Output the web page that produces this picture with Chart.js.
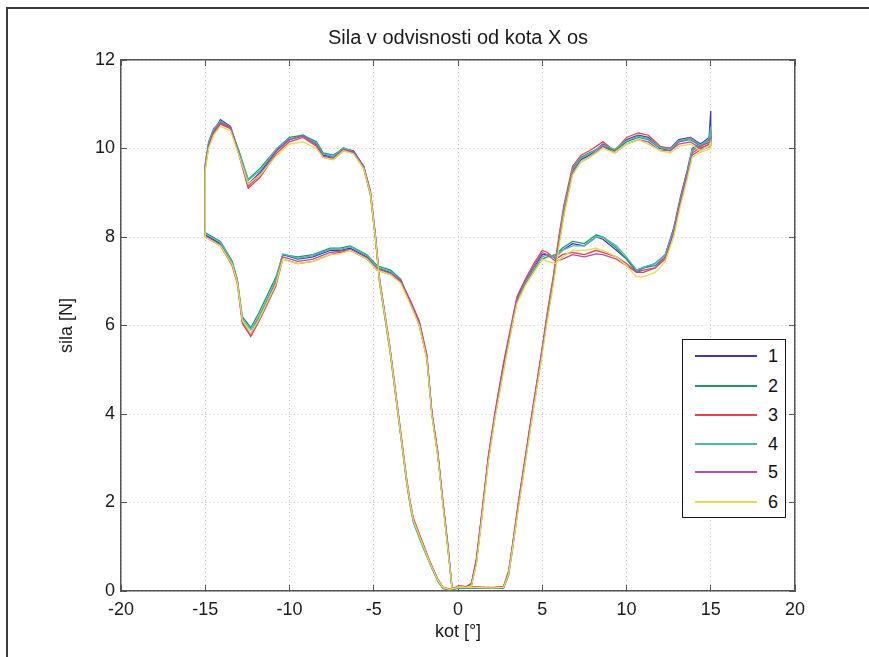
<!DOCTYPE html>
<html>
<head>
<meta charset="utf-8">
<script src="https://cdn.jsdelivr.net/npm/chart.js@4.4.1/dist/chart.umd.min.js"></script>
<style>
  html, body { margin: 0; padding: 0; background: #ffffff; }
  #wrap { position: relative; width: 869px; height: 657px; overflow: hidden; background: #ffffff; }
  #frame { position: absolute; left: 6px; top: 7px; width: 900px; height: 700px;
           border-left: 2px solid #3a3a3a; border-top: 2px solid #3a3a3a; pointer-events: none; }
  canvas { position: absolute; left: 0; top: 0; }
  #legend { position: absolute; left: 682px; top: 339px; width: 104px; height: 179px;
            border: 1px solid #1a1a1a; background: #ffffff; box-sizing: border-box;
            font-family: 'Liberation Sans', Arial, sans-serif; font-size: 18px; color: #111; }
  .row { position: absolute; left: 0; height: 20px; width: 100%; }
  .row .ln { position: absolute; left: 12px; width: 62px; top: 9px; height: 2px; }
  .row .tx { position: absolute; left: 85px; top: 0; line-height: 20px; }
</style>
</head>
<body>
<div id="wrap">
  <canvas id="c" width="869" height="657"></canvas>
  <div id="frame"></div>
  <div id="legend"></div>
</div>
<script>
// ---- data ----
const title = 'Sila v odvisnosti od kota X os';
const xLabel = 'kot [°]';
const yLabel = 'sila [N]';
const xTicks = [-20, -15, -10, -5, 0, 5, 10, 15, 20];
const yTicks = [0, 2, 4, 6, 8, 10, 12];
const seriesNames = ['1', '2', '3', '4', '5', '6'];
const seriesColors = ['#3a3ab4', '#1c9a62', '#e8414f', '#4fb8b2', '#b94aa6', '#e4dc4a'];

// angle path (shared by all six measurements)
const kot = [
  2.7, 3.0, 3.2, 3.6, 4.0, 4.4, 4.9, 5.3, 5.65, 6.0,
  6.3, 6.8, 7.3, 7.8, 8.6, 9.3, 10.0, 10.7, 11.3, 12.0,
  12.6, 13.1, 13.8, 14.4, 14.9, 15.0, 15.0, 14.3, 13.9, 13.6,
  13.2, 12.8, 12.3, 11.7, 11.0, 10.6, 10.0, 9.4, 8.6, 8.2,
  7.5, 6.8, 6.2, 5.8, 5.3, 5.0, 4.5, 4.0, 3.5, 3.2,
  2.7, 2.2, 1.8, 1.5, 1.1, 0.8, 0.5, 0.1, -0.35, -0.6,
  -0.9, -1.2, -1.55, -1.85, -2.3, -2.8, -3.4, -4.0, -4.8, -5.4,
  -6.4, -7.0, -7.6, -8.6, -9.5, -10.4, -10.8, -11.3, -11.8, -12.3,
  -12.8, -13.1, -13.4, -14.1, -15.0, -15.0, -14.8, -14.5, -14.1, -13.5,
  -13.0, -12.45, -11.75, -10.75, -10.0, -9.2, -8.4, -8.0, -7.4, -6.8,
  -6.2, -5.6, -5.2, -4.9, -4.65, -4.05, -3.55, -3.05, -2.85, -2.65,
  -2.25, -1.65, -1.2, -0.9, -0.5, 0.0, 1.0, 2.0, 2.7
];

const sila1 = [
  0.08, 0.4, 0.9, 2.0, 3.0, 4.0, 5.2, 6.2, 7.0, 7.9,
  8.6, 9.5, 9.75, 9.85, 10.1, 9.95, 10.2, 10.3, 10.25, 10.0,
  10.0, 10.2, 10.25, 10.1, 10.25, 10.85, 10.2, 10.1, 10.0, 9.5,
  8.9, 8.2, 7.6, 7.4, 7.3, 7.25, 7.5, 7.7, 7.95, 8.0,
  7.8, 7.85, 7.7, 7.55, 7.6, 7.6, 7.3, 7.0, 6.6, 6.0,
  5.1, 4.0, 3.0, 2.0, 0.7, 0.15, 0.08, 0.1, 0.05, 1.0,
  2.0, 3.1, 4.0, 5.3, 6.05, 6.5, 7.0, 7.2, 7.3, 7.55,
  7.75, 7.7, 7.7, 7.55, 7.5, 7.6, 7.0, 6.6, 6.2, 5.8,
  6.1, 7.0, 7.4, 7.85, 8.05, 9.6, 10.1, 10.4, 10.65, 10.5,
  9.9, 9.2, 9.45, 9.97, 10.2, 10.3, 10.1, 9.85, 9.8, 10.0,
  9.95, 9.6, 9.0, 8.0, 7.0, 5.5, 4.0, 2.5, 2.0, 1.6,
  1.2, 0.63, 0.25, 0.08, 0.03, 0.08, 0.08, 0.07, 0.08
];
const sila2 = [
  0.06, 0.35, 0.85, 1.95, 2.95, 3.95, 5.15, 6.25, 7.05, 8.0,
  8.7, 9.55, 9.8, 9.9, 10.05, 9.95, 10.15, 10.25, 10.2, 10.0,
  9.95, 10.15, 10.2, 10.05, 10.2, 10.4, 10.15, 10.05, 9.95, 9.4,
  8.8, 8.1, 7.55, 7.35, 7.3, 7.2, 7.5, 7.75, 8.0, 8.05,
  7.85, 7.9, 7.75, 7.6, 7.55, 7.5, 7.25, 6.95, 6.55, 6.0,
  5.0, 3.95, 2.95, 1.95, 0.65, 0.12, 0.06, 0.08, 0.04, 0.95,
  2.0, 3.05, 4.0, 5.25, 6.0, 6.5, 7.05, 7.25, 7.35, 7.6,
  7.8, 7.75, 7.75, 7.6, 7.55, 7.6, 7.1, 6.7, 6.3, 5.95,
  6.2, 7.05, 7.45, 7.9, 8.1, 9.65, 10.15, 10.45, 10.6, 10.45,
  9.95, 9.3, 9.55, 10.0, 10.25, 10.3, 10.15, 9.9, 9.85, 10.0,
  9.9, 9.55, 8.95, 7.95, 6.95, 5.45, 3.95, 2.45, 1.95, 1.55,
  1.15, 0.6, 0.22, 0.06, 0.02, 0.06, 0.06, 0.06, 0.06
];
const sila3 = [
  0.1, 0.45, 0.95, 2.05, 3.05, 4.05, 5.25, 6.3, 7.1, 8.05,
  8.75, 9.6, 9.85, 9.95, 10.15, 9.95, 10.25, 10.35, 10.3, 10.05,
  10.0, 10.15, 10.25, 10.05, 10.15, 10.3, 10.1, 10.0, 9.9, 9.45,
  8.85, 8.15, 7.55, 7.3, 7.2, 7.2, 7.4, 7.55, 7.65, 7.7,
  7.6, 7.65, 7.6, 7.5, 7.65, 7.7, 7.4, 7.05, 6.65, 6.1,
  5.15, 4.05, 3.05, 2.05, 0.75, 0.18, 0.1, 0.12, 0.06, 1.05,
  2.05, 3.15, 4.05, 5.35, 6.1, 6.55, 7.0, 7.15, 7.25, 7.5,
  7.7, 7.65, 7.6, 7.45, 7.4, 7.5, 6.9, 6.5, 6.1, 5.75,
  6.05, 6.95, 7.35, 7.8, 8.0, 9.55, 10.05, 10.35, 10.55, 10.45,
  9.85, 9.1, 9.35, 9.9, 10.15, 10.25, 10.05, 9.8, 9.75, 9.95,
  9.9, 9.6, 9.05, 8.05, 7.05, 5.55, 4.05, 2.55, 2.05, 1.65,
  1.25, 0.65, 0.27, 0.09, 0.04, 0.1, 0.09, 0.08, 0.1
];
const sila4 = [
  0.07, 0.38, 0.88, 1.98, 2.98, 3.98, 5.18, 6.22, 7.02, 7.95,
  8.65, 9.52, 9.78, 9.88, 10.08, 9.98, 10.18, 10.28, 10.22, 10.02,
  9.98, 10.18, 10.22, 10.08, 10.22, 10.5, 10.18, 10.08, 9.98, 9.45,
  8.85, 8.15, 7.6, 7.4, 7.32, 7.25, 7.55, 7.8, 8.0, 8.0,
  7.8, 7.8, 7.7, 7.55, 7.6, 7.55, 7.28, 6.98, 6.58, 6.02,
  5.05, 3.98, 2.98, 1.98, 0.68, 0.14, 0.07, 0.09, 0.05, 0.98,
  2.02, 3.08, 4.02, 5.28, 6.02, 6.48, 7.02, 7.22, 7.32, 7.58,
  7.78, 7.72, 7.72, 7.58, 7.52, 7.62, 7.05, 6.62, 6.22, 5.9,
  6.15, 7.02, 7.42, 7.88, 8.08, 9.62, 10.12, 10.42, 10.62, 10.48,
  9.92, 9.28, 9.5, 10.0, 10.22, 10.28, 10.12, 9.88, 9.82, 10.02,
  9.92, 9.58, 8.98, 7.98, 6.98, 5.48, 3.98, 2.48, 1.98, 1.58,
  1.18, 0.62, 0.24, 0.07, 0.03, 0.07, 0.07, 0.07, 0.07
];
const sila5 = [
  0.09, 0.42, 0.92, 2.02, 3.02, 4.02, 5.22, 6.18, 6.98, 7.88,
  8.55, 9.45, 9.7, 9.8, 10.05, 9.9, 10.1, 10.2, 10.15, 9.95,
  9.95, 10.1, 10.15, 10.0, 10.1, 10.2, 10.05, 9.95, 9.85, 9.4,
  8.8, 8.1, 7.5, 7.3, 7.25, 7.2, 7.35, 7.5, 7.6, 7.62,
  7.55, 7.6, 7.5, 7.45, 7.6, 7.65, 7.35, 7.02, 6.62, 6.05,
  5.1, 4.02, 3.02, 2.02, 0.72, 0.16, 0.09, 0.1, 0.05, 1.02,
  2.02, 3.12, 4.02, 5.32, 6.08, 6.52, 7.02, 7.18, 7.28, 7.52,
  7.72, 7.68, 7.65, 7.5, 7.45, 7.55, 6.95, 6.55, 6.15, 5.8,
  6.1, 7.0, 7.38, 7.82, 8.02, 9.58, 10.08, 10.38, 10.58, 10.48,
  9.88, 9.15, 9.4, 9.95, 10.2, 10.28, 10.08, 9.82, 9.78, 9.98,
  9.92, 9.6, 9.02, 8.02, 7.02, 5.52, 4.02, 2.52, 2.02, 1.62,
  1.22, 0.64, 0.26, 0.08, 0.03, 0.09, 0.08, 0.07, 0.09
];
const sila6 = [
  0.08, 0.38, 0.86, 1.9, 2.9, 3.9, 5.1, 6.1, 6.9, 7.8,
  8.5, 9.4, 9.7, 9.8, 10.0, 9.9, 10.1, 10.2, 10.1, 9.95,
  9.9, 10.05, 10.1, 9.95, 10.05, 10.15, 10.0, 9.9, 9.8, 9.3,
  8.7, 8.0, 7.45, 7.2, 7.1, 7.1, 7.35, 7.55, 7.7, 7.75,
  7.7, 7.7, 7.55, 7.4, 7.45, 7.5, 7.2, 6.9, 6.5, 5.95,
  4.95, 3.9, 2.9, 1.9, 0.62, 0.12, 0.08, 0.1, 0.05, 0.95,
  1.95, 3.05, 3.95, 5.25, 6.0, 6.45, 6.95, 7.15, 7.25, 7.5,
  7.7, 7.62, 7.6, 7.45, 7.4, 7.5, 6.95, 6.55, 6.15, 5.82,
  6.12, 6.98, 7.38, 7.8, 8.0, 9.5, 10.0, 10.3, 10.5, 10.4,
  9.85, 9.2, 9.4, 9.85, 10.1, 10.15, 10.0, 9.8, 9.75, 9.95,
  9.88, 9.55, 8.98, 7.98, 6.98, 5.5, 3.98, 2.5, 2.0, 1.6,
  1.2, 0.62, 0.25, 0.08, 0.03, 0.08, 0.08, 0.07, 0.08
];
const allSila = [sila1, sila2, sila3, sila4, sila5, sila6];

// ---- chart ----
const FONT = "'Liberation Sans', Arial, Helvetica, sans-serif";
const datasets = allSila.map((ys, i) => ({
  label: seriesNames[i],
  data: ys.map((y, j) => ({ x: kot[j], y: y })),
  borderColor: seriesColors[i],
  backgroundColor: seriesColors[i],
  borderWidth: 1.3,
  pointRadius: 0,
  showLine: true,
  tension: 0,
  order: seriesNames.length - i
}));

const fixTicks = vals => scale => { scale.ticks = vals.map(v => ({ value: v })); };

new Chart(document.getElementById('c'), {
  type: 'scatter',
  data: { datasets },
  options: {
    responsive: false,
    animation: false,
    devicePixelRatio: 1,
    layout: { padding: { left: 0, right: 74, top: 0, bottom: 0 } },
    plugins: {
      legend: { display: false },
      tooltip: { enabled: false },
      title: {
        display: true, text: title, color: '#1a1a1a', fullSize: false,
        font: { family: FONT, size: 20, weight: 'normal' },
        padding: { top: 26, bottom: 10 }
      }
    },
    scales: {
      x: {
        type: 'linear', position: 'bottom', min: -20, max: 20,
        afterBuildTicks: fixTicks(xTicks),
        afterFit: s => { s.height = 66; },
        grid: { color: '#c4c4c4', lineWidth: 1, drawTicks: true, tickLength: -6,
                tickColor: '#555555', tickBorderDash: [] },
        border: { display: true, color: '#555555', width: 1.5, dash: [1, 3] },
        ticks: { color: '#1a1a1a', font: { family: FONT, size: 18 }, padding: 14, maxRotation: 0 },
        title: { display: true, text: xLabel, color: '#1a1a1a',
                 font: { family: FONT, size: 18 }, padding: { top: 0, bottom: 14 } }
      },
      x2: {
        type: 'linear', position: 'top', min: -20, max: 20,
        afterBuildTicks: fixTicks(xTicks),
        afterFit: s => { s.height = 0; },
        grid: { drawOnChartArea: false, drawTicks: true, tickLength: -6, tickColor: '#555555' },
        border: { display: true, color: '#555555', width: 1.5 },
        ticks: { display: false }
      },
      y: {
        type: 'linear', position: 'left', min: 0, max: 12,
        afterBuildTicks: fixTicks(yTicks),
        afterFit: s => { s.width = 121; },
        grid: { color: '#c4c4c4', lineWidth: 1, drawTicks: true, tickLength: -6,
                tickColor: '#555555', tickBorderDash: [] },
        border: { display: true, color: '#555555', width: 1.5, dash: [1, 3] },
        ticks: { color: '#1a1a1a', font: { family: FONT, size: 18 }, padding: 12 },
        title: { display: true, text: yLabel, color: '#1a1a1a',
                 font: { family: FONT, size: 18 }, padding: { top: 56, bottom: 0 } }
      },
      y2: {
        type: 'linear', position: 'right', min: 0, max: 12,
        afterBuildTicks: fixTicks(yTicks),
        afterFit: s => { s.width = 0; },
        grid: { drawOnChartArea: false, drawTicks: true, tickLength: -6, tickColor: '#555555' },
        border: { display: true, color: '#555555', width: 1.5 },
        ticks: { display: false }
      }
    }
  }
});

// ---- legend (real text, built from the series arrays) ----
const leg = document.getElementById('legend');
const rowTops = [6, 36, 65, 94, 122, 152];
seriesNames.forEach((name, i) => {
  const row = document.createElement('div');
  row.className = 'row';
  row.style.top = rowTops[i] + 'px';
  const ln = document.createElement('div');
  ln.className = 'ln';
  ln.style.background = seriesColors[i];
  const tx = document.createElement('div');
  tx.className = 'tx';
  tx.textContent = name;
  row.appendChild(ln); row.appendChild(tx);
  leg.appendChild(row);
});
</script>
</body>
</html>
